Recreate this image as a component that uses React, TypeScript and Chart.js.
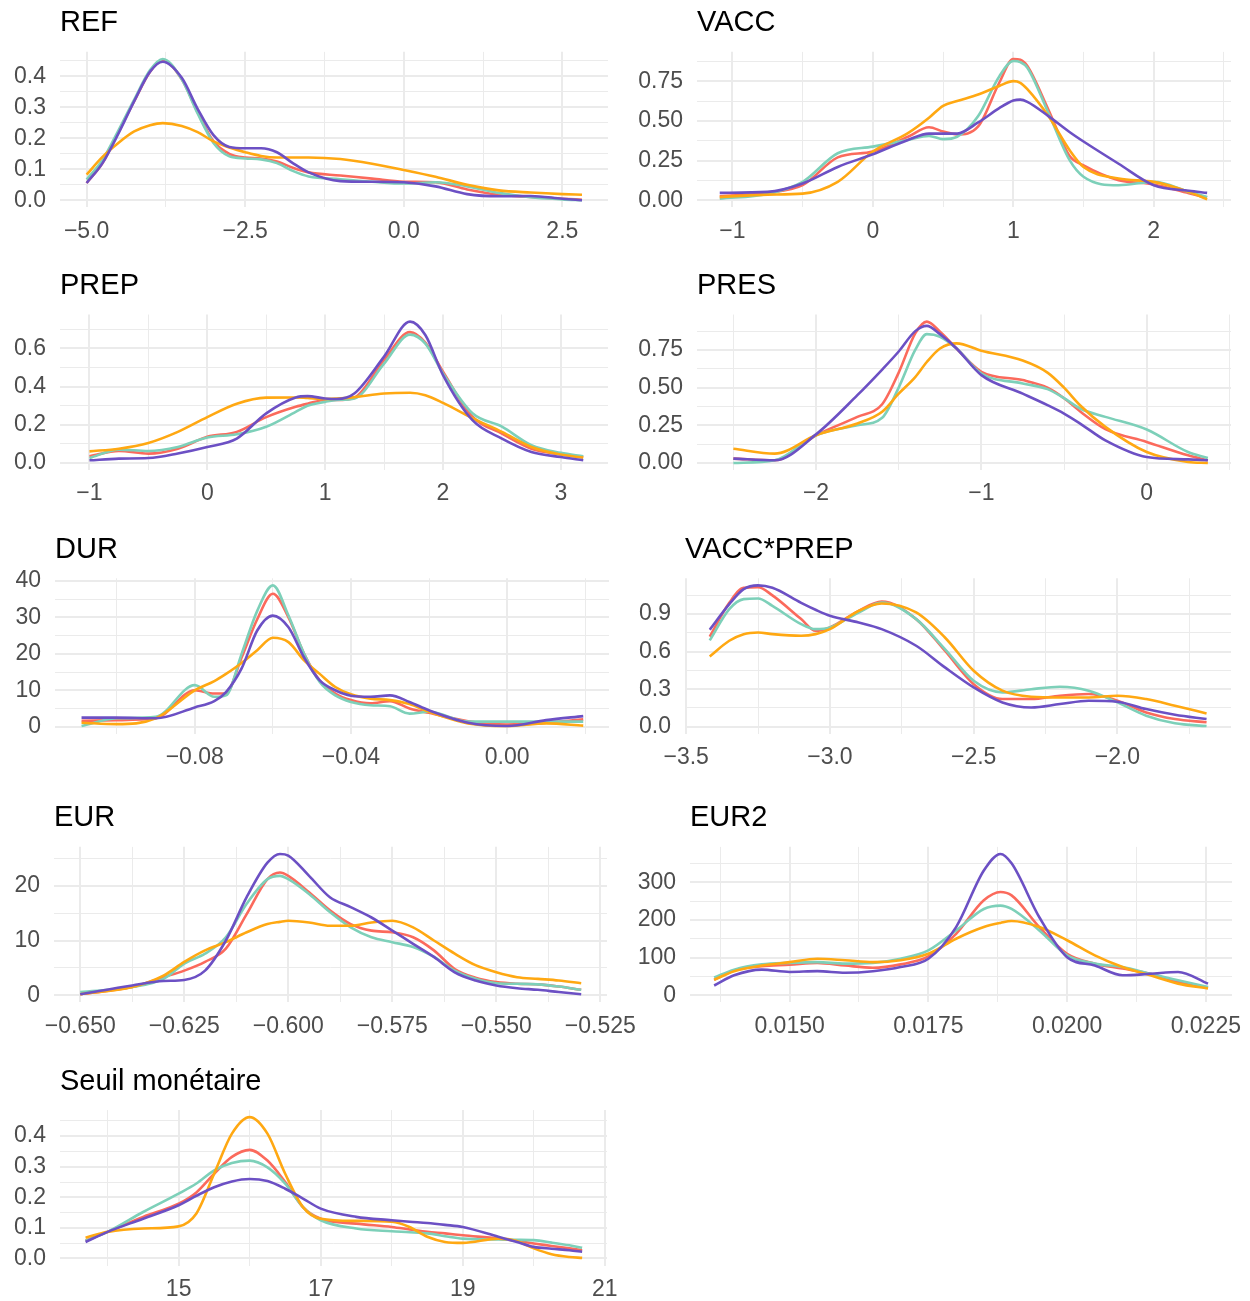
import React, { useEffect, useRef } from "react";
import { Chart, registerables } from "chart.js";

Chart.register(...registerables);
Chart.defaults.font.family = '"Liberation Sans", Arial, Helvetica, sans-serif';

const RED = "#FB6A5C";
const TEAL = "#7DD0B9";
const ORANGE = "#FFA812";
const PURPLE = "#6C50C4";

// ---------- REF ----------
const REF_X = [-5.0, -4.75, -4.5, -4.25, -4.0, -3.8, -3.5, -3.25, -3.0, -2.75, -2.5, -2.25, -2.0, -1.75, -1.5, -1.0, -0.5, 0.0, 0.5, 1.0, 1.5, 2.0, 2.5, 2.81];
const REF_RED = [0.056, 0.12, 0.22, 0.32, 0.415, 0.452, 0.39, 0.285, 0.19, 0.15, 0.138, 0.135, 0.125, 0.105, 0.09, 0.08, 0.07, 0.06, 0.058, 0.035, 0.018, 0.011, 0.005, 0.002];
const REF_TEAL = [0.067, 0.13, 0.225, 0.325, 0.42, 0.456, 0.39, 0.28, 0.185, 0.142, 0.135, 0.132, 0.12, 0.095, 0.077, 0.068, 0.06, 0.054, 0.058, 0.045, 0.024, 0.01, 0.003, 0.0];
const REF_ORANGE = [0.083, 0.14, 0.185, 0.222, 0.242, 0.249, 0.24, 0.22, 0.19, 0.17, 0.155, 0.143, 0.138, 0.138, 0.138, 0.133, 0.118, 0.098, 0.076, 0.05, 0.032, 0.025, 0.02, 0.018];
const REF_PURPLE = [0.056, 0.12, 0.215, 0.32, 0.415, 0.447, 0.395, 0.295, 0.21, 0.172, 0.168, 0.168, 0.155, 0.12, 0.09, 0.062, 0.06, 0.058, 0.045, 0.02, 0.013, 0.014, 0.005, 0.0];
const REF_XTICKS = ["−5.0", "−2.5", "0.0", "2.5"];
const REF_YTICKS = ["0.0", "0.1", "0.2", "0.3", "0.4"];

// ---------- VACC ----------
const VACC_X = [-1.09, -0.75, -0.5, -0.25, 0, 0.25, 0.4, 0.5, 0.6, 0.75, 0.9, 1.0, 1.05, 1.1, 1.25, 1.4, 1.5, 1.75, 2.0, 2.25, 2.38];
const VACC_RED = [0.025, 0.047, 0.095, 0.27, 0.307, 0.4, 0.46, 0.433, 0.415, 0.465, 0.74, 0.89, 0.885, 0.845, 0.57, 0.28, 0.22, 0.127, 0.1, 0.045, 0.017];
const VACC_TEAL = [0.01, 0.04, 0.116, 0.296, 0.338, 0.38, 0.405, 0.385, 0.4, 0.53, 0.78, 0.877, 0.87, 0.835, 0.55, 0.254, 0.148, 0.095, 0.116, 0.053, 0.021];
const VACC_ORANGE = [0.02, 0.036, 0.042, 0.116, 0.307, 0.423, 0.52, 0.595, 0.625, 0.666, 0.72, 0.75, 0.74, 0.7, 0.53, 0.317, 0.21, 0.137, 0.116, 0.053, 0.006];
const VACC_PURPLE = [0.047, 0.053, 0.106, 0.21, 0.29, 0.38, 0.42, 0.42, 0.42, 0.49, 0.58, 0.628, 0.634, 0.62, 0.53, 0.43, 0.37, 0.23, 0.095, 0.06, 0.047];
const VACC_XTICKS = ["−1", "0", "1", "2"];
const VACC_YTICKS = ["0.00", "0.25", "0.50", "0.75"];

// ---------- PREP ----------
const PREP_X = [-1.0, -0.75, -0.5, -0.25, 0, 0.25, 0.5, 0.75, 0.85, 1.0, 1.1, 1.25, 1.5, 1.72, 1.85, 2.0, 2.25, 2.5, 2.75, 3.0, 3.19];
const PREP_RED = [0.035, 0.063, 0.049, 0.075, 0.137, 0.163, 0.24, 0.294, 0.31, 0.33, 0.33, 0.343, 0.54, 0.685, 0.63, 0.478, 0.242, 0.154, 0.075, 0.046, 0.031];
const PREP_TEAL = [0.026, 0.07, 0.063, 0.084, 0.133, 0.15, 0.19, 0.268, 0.3, 0.32, 0.33, 0.338, 0.52, 0.672, 0.625, 0.469, 0.26, 0.19, 0.093, 0.053, 0.035];
const PREP_ORANGE = [0.061, 0.075, 0.105, 0.163, 0.24, 0.31, 0.342, 0.343, 0.34, 0.335, 0.337, 0.345, 0.364, 0.368, 0.355, 0.315, 0.235, 0.163, 0.084, 0.044, 0.028];
const PREP_PURPLE = [0.014, 0.023, 0.026, 0.05, 0.084, 0.128, 0.26, 0.343, 0.35, 0.338, 0.335, 0.365, 0.557, 0.74, 0.67, 0.46, 0.224, 0.128, 0.058, 0.031, 0.014];
const PREP_XTICKS = ["−1", "0", "1", "2", "3"];
const PREP_YTICKS = ["0.0", "0.2", "0.4", "0.6"];

// ---------- PRES ----------
const PRES_X = [-2.5, -2.25, -2.0, -1.75, -1.6, -1.5, -1.4, -1.33, -1.25, -1.15, -1.0, -0.75, -0.6, -0.5, -0.4, -0.25, 0, 0.25, 0.37];
const PRES_RED = [0.029, 0.018, 0.184, 0.306, 0.39, 0.6, 0.86, 0.938, 0.871, 0.76, 0.605, 0.55, 0.5, 0.43, 0.34, 0.225, 0.14, 0.051, 0.018];
const PRES_TEAL = [0.0, 0.018, 0.184, 0.25, 0.3, 0.5, 0.75, 0.855, 0.838, 0.76, 0.594, 0.528, 0.49, 0.43, 0.36, 0.306, 0.222, 0.073, 0.033];
const PRES_ORANGE = [0.095, 0.062, 0.184, 0.262, 0.34, 0.46, 0.57, 0.67, 0.76, 0.794, 0.745, 0.68, 0.6, 0.5, 0.38, 0.24, 0.073, 0.007, 0.0];
const PRES_PURPLE = [0.029, 0.018, 0.19, 0.45, 0.62, 0.74, 0.875, 0.91, 0.855, 0.76, 0.583, 0.46, 0.384, 0.328, 0.26, 0.15, 0.04, 0.024, 0.018];
const PRES_XTICKS = ["−2", "−1", "0"];
const PRES_YTICKS = ["0.00", "0.25", "0.50", "0.75"];

// ---------- DUR ----------
const DUR_X = [-0.109, -0.1, -0.09, -0.08, -0.075, -0.072, -0.068, -0.064, -0.06, -0.056, -0.052, -0.048, -0.044, -0.04, -0.035, -0.03, -0.025, -0.02, -0.01, 0.0, 0.01, 0.0195];
const DUR_RED = [1.6, 1.8, 2.3, 10, 9.1, 9.2, 19, 29.5, 36.5, 30, 20, 12.7, 9.1, 7.3, 6.4, 7.0, 5, 3.8, 1.5, 0.6, 1.1, 2];
const DUR_TEAL = [0.2, 2.3, 2.7, 11.4, 8.2, 8.6, 20, 31.8, 38.8, 30.5, 20, 12.3, 8.6, 6.8, 5.9, 5.6, 3.6, 4.1, 1.4, 1.4, 1.4, 1.4];
const DUR_ORANGE = [1.1, 0.7, 2.3, 10, 12.5, 14.5, 17.5, 21, 24.4, 23.2, 18.2, 14.5, 10.9, 8.9, 7.7, 7.3, 6.2, 4.1, 0.9, 0.2, 0.9, 0.3];
const DUR_PURPLE = [2.5, 2.5, 2.3, 5.3, 7, 9.5, 16, 26.4, 30.5, 27.3, 19, 12.7, 10, 8.5, 8.2, 8.6, 6.8, 4.5, 1.1, 0.2, 1.8, 2.9];
const DUR_XTICKS = ["−0.08", "−0.04", "0.00"];
const DUR_YTICKS = ["0", "10", "20", "30", "40"];

// ---------- VACC*PREP ----------
const VP_X = [-3.418, -3.35, -3.3, -3.25, -3.2, -3.1, -3.05, -3.0, -2.9, -2.82, -2.7, -2.6, -2.5, -2.4, -2.3, -2.2, -2.1, -2.0, -1.9, -1.8, -1.69];
const VP_RED = [0.72, 0.99, 1.11, 1.115, 1.05, 0.86, 0.767, 0.793, 0.926, 1.0, 0.86, 0.607, 0.34, 0.221, 0.221, 0.248, 0.261, 0.208, 0.114, 0.061, 0.035];
const VP_TEAL = [0.69, 0.94, 1.02, 1.025, 0.966, 0.82, 0.78, 0.793, 0.913, 0.993, 0.86, 0.62, 0.367, 0.274, 0.3, 0.319, 0.288, 0.194, 0.088, 0.027, 0.005];
const VP_ORANGE = [0.562, 0.687, 0.74, 0.753, 0.74, 0.727, 0.74, 0.78, 0.926, 0.985, 0.913, 0.713, 0.447, 0.288, 0.24, 0.234, 0.234, 0.248, 0.221, 0.168, 0.106];
const VP_PURPLE = [0.775, 0.98, 1.1, 1.13, 1.11, 0.99, 0.935, 0.887, 0.833, 0.78, 0.647, 0.474, 0.314, 0.194, 0.154, 0.181, 0.208, 0.2, 0.141, 0.096, 0.061];
const VP_XTICKS = ["−3.5", "−3.0", "−2.5", "−2.0"];
const VP_YTICKS = ["0.0", "0.3", "0.6", "0.9"];

// ---------- EUR ----------
const EUR_X = [-0.65, -0.6375, -0.63, -0.625, -0.62, -0.615, -0.61, -0.605, -0.602, -0.6, -0.595, -0.59, -0.585, -0.58, -0.575, -0.57, -0.565, -0.56, -0.555, -0.55, -0.545, -0.54, -0.535, -0.5296];
const EUR_RED = [0.2, 1.5, 3.3, 4.5, 6.1, 8.5, 14.8, 21.2, 22.4, 21.8, 18.8, 15.5, 13, 11.8, 11.5, 10.6, 8.2, 4.8, 3.2, 2.4, 2.1, 2.0, 1.6, 1.0];
const EUR_TEAL = [0.6, 1.5, 3.0, 5.8, 7.6, 10.6, 16.7, 21.2, 21.8, 21.2, 18.5, 15.2, 12.4, 10.6, 9.7, 8.8, 7, 4.5, 3.0, 2.2, 2.1, 2.0, 1.6, 1.0];
const EUR_ORANGE = [0.2, 1.5, 3.6, 6.1, 8.2, 9.7, 11.5, 13, 13.4, 13.6, 13.3, 12.7, 12.7, 13.3, 13.6, 12.4, 10, 7.6, 5.5, 4.2, 3.3, 3.0, 2.7, 2.2];
const EUR_PURPLE = [0.2, 1.8, 2.6, 2.8, 4.5, 10, 17.9, 24.2, 25.8, 25.5, 21.8, 17.9, 16.1, 14.2, 11.8, 9.4, 7, 4.2, 2.7, 1.8, 1.3, 1.0, 0.6, 0.2];
const EUR_XTICKS = ["−0.650", "−0.625", "−0.600", "−0.575", "−0.550", "−0.525"];
const EUR_YTICKS = ["0", "10", "20"];

// ---------- EUR2 ----------
const EUR2_X = [0.01364, 0.014, 0.0145, 0.015, 0.0155, 0.016, 0.0165, 0.017, 0.0175, 0.018, 0.0185, 0.0188, 0.019, 0.0195, 0.02, 0.0205, 0.021, 0.0215, 0.022, 0.02254];
const EUR2_RED = [41, 66, 77, 81, 86, 79, 73, 82, 103, 163, 252, 274, 265, 181, 110, 84, 71, 57, 35, 20];
const EUR2_TEAL = [47, 68, 82, 86, 88, 84, 86, 97, 119, 172, 229, 238, 229, 172, 106, 84, 75, 57, 40, 22];
const EUR2_ORANGE = [41, 64, 79, 88, 97, 93, 88, 93, 110, 150, 181, 192, 197, 181, 146, 106, 75, 53, 31, 18];
const EUR2_PURPLE = [26, 53, 68, 62, 64, 60, 64, 75, 97, 181, 331, 375, 350, 207, 101, 79, 53, 57, 62, 31];
const EUR2_XTICKS = ["0.0150", "0.0175", "0.0200", "0.0225"];
const EUR2_YTICKS = ["0", "100", "200", "300"];

// ---------- Seuil monétaire ----------
const SEUIL_X = [13.69, 14, 14.5, 15, 15.25, 15.5, 15.75, 16, 16.25, 16.5, 16.75, 17, 17.5, 18, 18.25, 18.5, 18.75, 19, 19.5, 19.75, 20, 20.25, 20.5, 20.68];
const SEUIL_RED = [0.058, 0.087, 0.136, 0.179, 0.216, 0.277, 0.332, 0.355, 0.32, 0.25, 0.168, 0.13, 0.114, 0.103, 0.095, 0.087, 0.082, 0.076, 0.065, 0.058, 0.049, 0.041, 0.033, 0.027];
const SEUIL_TEAL = [0.058, 0.087, 0.152, 0.212, 0.245, 0.288, 0.312, 0.32, 0.298, 0.245, 0.168, 0.125, 0.098, 0.089, 0.086, 0.082, 0.073, 0.065, 0.062, 0.061, 0.06, 0.052, 0.043, 0.035];
const SEUIL_ORANGE = [0.068, 0.087, 0.098, 0.105, 0.147, 0.277, 0.408, 0.462, 0.408, 0.277, 0.168, 0.13, 0.123, 0.12, 0.103, 0.071, 0.054, 0.051, 0.065, 0.058, 0.033, 0.014, 0.005, 0.002];
const SEUIL_PURPLE = [0.054, 0.087, 0.13, 0.174, 0.205, 0.233, 0.252, 0.26, 0.253, 0.228, 0.196, 0.163, 0.136, 0.125, 0.12, 0.116, 0.11, 0.103, 0.071, 0.055, 0.038, 0.032, 0.027, 0.022];
const SEUIL_XTICKS = ["15", "17", "19", "21"];
const SEUIL_YTICKS = ["0.0", "0.1", "0.2", "0.3", "0.4"];

// ---------- layout ----------
const PANELS = [
  { title: "REF", x: REF_X, s: [REF_RED, REF_TEAL, REF_ORANGE, REF_PURPLE], xt: REF_XTICKS, yt: REF_YTICKS, col: 0, L: 60, R: 608, Y0: 200.3, xMin: -5.42, xMax: 3.22 },
  { title: "VACC", x: VACC_X, s: [VACC_RED, VACC_TEAL, VACC_ORANGE, VACC_PURPLE], xt: VACC_XTICKS, yt: VACC_YTICKS, col: 1, L: 697, R: 1231, Y0: 200.3, xMin: -1.252, xMax: 2.55 },
  { title: "PREP", x: PREP_X, s: [PREP_RED, PREP_TEAL, PREP_ORANGE, PREP_PURPLE], xt: PREP_XTICKS, yt: PREP_YTICKS, col: 0, L: 60, R: 608, Y0: 463, xMin: -1.25, xMax: 3.4 },
  { title: "PRES", x: PRES_X, s: [PRES_RED, PRES_TEAL, PRES_ORANGE, PRES_PURPLE], xt: PRES_XTICKS, yt: PRES_YTICKS, col: 1, L: 697, R: 1231, Y0: 463, xMin: -2.72, xMax: 0.51 },
  { title: "DUR", x: DUR_X, s: [DUR_RED, DUR_TEAL, DUR_ORANGE, DUR_PURPLE], xt: DUR_XTICKS, yt: DUR_YTICKS, col: 0, L: 55, R: 609, Y0: 726.7, xMin: -0.1158, xMax: 0.0261 },
  { title: "VACC*PREP", x: VP_X, s: [VP_RED, VP_TEAL, VP_ORANGE, VP_PURPLE], xt: VP_XTICKS, yt: VP_YTICKS, col: 1, L: 685, R: 1231, Y0: 726.7, xMin: -3.504, xMax: -1.605 },
  { title: "EUR", x: EUR_X, s: [EUR_RED, EUR_TEAL, EUR_ORANGE, EUR_PURPLE], xt: EUR_XTICKS, yt: EUR_YTICKS, col: 0, L: 54, R: 607, Y0: 995.3, xMin: -0.6563, xMax: -0.5234 },
  { title: "EUR2", x: EUR2_X, s: [EUR2_RED, EUR2_TEAL, EUR2_ORANGE, EUR2_PURPLE], xt: EUR2_XTICKS, yt: EUR2_YTICKS, col: 1, L: 690, R: 1232, Y0: 995.3, xMin: 0.013205, xMax: 0.022972 },
  { title: "Seuil monétaire", x: SEUIL_X, s: [SEUIL_RED, SEUIL_TEAL, SEUIL_ORANGE, SEUIL_PURPLE], xt: SEUIL_XTICKS, yt: SEUIL_YTICKS, col: 0, L: 60, R: 607, Y0: 1258.5, xMin: 13.33, xMax: 21.03 },
];

const COLORS = [RED, TEAL, ORANGE, PURPLE];
const PLOT_H = 155.5;
const TICK_FONT = 23;
const TITLE_FONT = 29;
const GRID = "#EBEBEB";

const parseTick = (t: string) => parseFloat(t.replace("\u2212", "-"));

function buildTicks(labels: string[], min: number, max: number) {
  const major = labels.map(parseTick);
  const step = major.length > 1 ? major[1] - major[0] : 1;
  const all: { v: number; label: string; major: boolean }[] = [];
  const first = major[0] - step / 2;
  if (first >= min) all.push({ v: first, label: "", major: false });
  major.forEach((v, i) => {
    all.push({ v, label: labels[i], major: true });
    const mid = v + step / 2;
    if (mid <= max) all.push({ v: mid, label: "", major: false });
  });
  return all.filter((t) => t.v >= min - 1e-12 && t.v <= max + 1e-12);
}

const titlePlugin = {
  id: "ptitle",
  afterDraw(chart: any, _args: any, opts: any) {
    const ctx = chart.ctx;
    ctx.save();
    ctx.font = `${TITLE_FONT}px "Liberation Sans", Arial, sans-serif`;
    ctx.fillStyle = "#000000";
    ctx.textBaseline = "alphabetic";
    ctx.textAlign = "left";
    ctx.fillText(opts.text, chart.chartArea.left, opts.y);
    ctx.restore();
  },
};

function Panel({ p }: { p: (typeof PANELS)[number] }) {
  const ref = useRef<HTMLCanvasElement | null>(null);
  const cx = p.col === 0 ? 0 : 618;
  const cw = p.col === 0 ? 652 : 632;
  const cy = Math.round(p.Y0 - 205);
  const ch = 270;

  useEffect(() => {
    if (!ref.current) return;
    const allY = p.s.flat();
    const dmax = Math.max(...allY);
    const yMin = -0.05 * dmax;
    const yMax = 1.05 * dmax;
    const B = p.Y0 + PLOT_H * (0.05 / 1.1);
    const T = B - PLOT_H;

    const xt = buildTicks(p.xt, p.xMin, p.xMax);
    const yt = buildTicks(p.yt, yMin, yMax);
    const findTick = (arr: typeof xt, v: number) => arr.find((t) => Math.abs(t.v - v) < 1e-9);

    const datasets = [3, 2, 1, 0].map((k) => ({
      data: p.x.map((xv, i) => ({ x: xv, y: p.s[k][i] })),
      borderColor: COLORS[k],
      backgroundColor: COLORS[k],
      borderWidth: 2.6,
      pointRadius: 0,
      fill: false,
      cubicInterpolationMode: "monotone" as const,
    }));

    const zeroPad = (s: any) => {
      s.paddingLeft = 0;
      s.paddingRight = 0;
      s.paddingTop = 0;
      s.paddingBottom = 0;
    };

    const yAxisW = p.L - cx;
    const xAxisH = cy + ch - B;

    const chart = new Chart(ref.current, {
      type: "line",
      data: { datasets },
      plugins: [titlePlugin],
      options: {
        animation: false,
        responsive: false,
        maintainAspectRatio: false,
        events: [],
        layout: {
          padding: {
            left: 0,
            right: cx + cw - p.R,
            top: T - cy,
            bottom: 0,
          },
        },
        plugins: {
          legend: { display: false },
          tooltip: { enabled: false },
          title: { display: false },
          // @ts-ignore
          ptitle: { text: p.title, y: p.Y0 - 169 - cy },
        },
        scales: {
          x: {
            type: "linear",
            min: p.xMin,
            max: p.xMax,
            border: { display: false },
            grid: {
              color: GRID,
              drawTicks: false,
              lineWidth: (c: any) => (findTick(xt, c.tick?.value)?.major ? 2 : 1),
            },
            ticks: {
              autoSkip: false,
              maxRotation: 0,
              minRotation: 0,
              padding: 10,
              color: "#4D4D4D",
              font: { size: TICK_FONT },
              callback: (v: any) => findTick(xt, Number(v))?.label ?? "",
            },
            afterBuildTicks: (s: any) => {
              s.ticks = xt.map((t) => ({ value: t.v }));
            },
            afterFit: (s: any) => {
              s.height = xAxisH;
              zeroPad(s);
            },
          },
          y: {
            type: "linear",
            min: yMin,
            max: yMax,
            border: { display: false },
            grid: {
              color: GRID,
              drawTicks: false,
              lineWidth: (c: any) => (findTick(yt, c.tick?.value)?.major ? 2 : 1),
            },
            ticks: {
              autoSkip: false,
              padding: 14,
              color: "#4D4D4D",
              font: { size: TICK_FONT },
              callback: (v: any) => findTick(yt, Number(v))?.label ?? "",
            },
            afterBuildTicks: (s: any) => {
              s.ticks = yt.map((t) => ({ value: t.v }));
            },
            afterFit: (s: any) => {
              s.width = yAxisW;
              zeroPad(s);
            },
          },
        },
      } as any,
    });
    return () => chart.destroy();
  }, []);

  return (
    <canvas
      ref={ref}
      width={cw}
      height={ch}
      style={{ position: "absolute", left: cx, top: cy, width: cw, height: ch }}
    />
  );
}

export default function App() {
  return (
    <div
      style={{
        position: "absolute",
        left: 0,
        top: 0,
        width: 1250,
        height: 1301,
        overflow: "hidden",
        background: "#FFFFFF",
      }}
    >
      {PANELS.map((p) => (
        <Panel key={p.title} p={p} />
      ))}
    </div>
  );
}
